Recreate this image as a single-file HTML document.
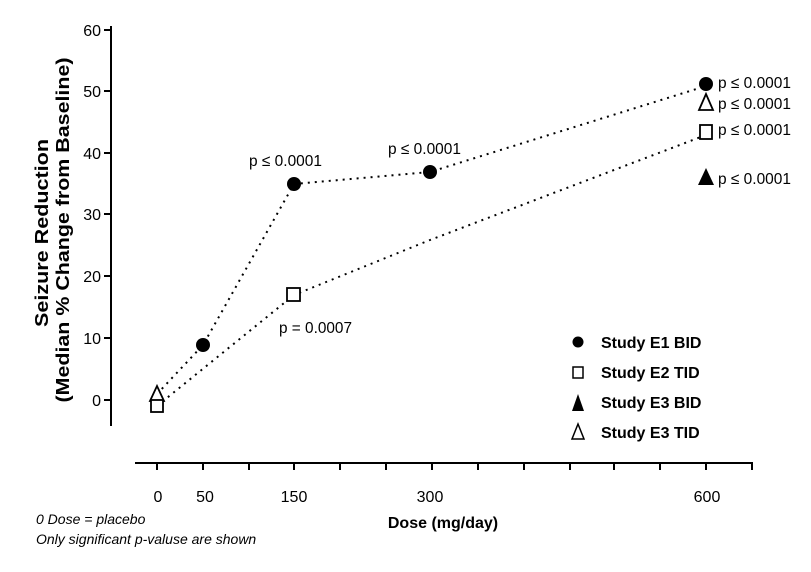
<!DOCTYPE html>
<html><head><style>body{margin:0;background:#fff}svg{display:block}</style></head><body>
<svg width="811" height="572" viewBox="0 0 811 572" xmlns="http://www.w3.org/2000/svg" font-family="Liberation Sans, Arial, sans-serif">
<rect width="811" height="572" fill="#fff"/>
<line x1="111" y1="26" x2="111" y2="426" stroke="#000" stroke-width="2"/>
<g stroke="#000" stroke-width="2">
<line x1="104" y1="30" x2="111" y2="30"/><line x1="104" y1="91" x2="111" y2="91"/><line x1="104" y1="153" x2="111" y2="153"/><line x1="104" y1="214" x2="111" y2="214"/><line x1="104" y1="276" x2="111" y2="276"/><line x1="104" y1="338" x2="111" y2="338"/><line x1="104" y1="400" x2="111" y2="400"/>
</g>
<g font-size="16" text-anchor="end" fill="#000">
<text x="101" y="36">60</text><text x="101" y="97">50</text><text x="101" y="159">40</text><text x="101" y="220">30</text><text x="101" y="282">20</text><text x="101" y="344">10</text><text x="101" y="406">0</text>
</g>
<text transform="translate(48,233) rotate(-90)" font-size="18" font-weight="bold" text-anchor="middle" textLength="188" lengthAdjust="spacingAndGlyphs">Seizure Reduction</text>
<text transform="translate(69,230) rotate(-90)" font-size="18" font-weight="bold" text-anchor="middle" textLength="345" lengthAdjust="spacingAndGlyphs">(Median % Change from Baseline)</text>
<line x1="135" y1="463" x2="753" y2="463" stroke="#000" stroke-width="2"/>
<g stroke="#000" stroke-width="2">
<line x1="157" y1="463" x2="157" y2="470"/><line x1="203" y1="463" x2="203" y2="470"/><line x1="249" y1="463" x2="249" y2="470"/><line x1="294" y1="463" x2="294" y2="470"/><line x1="340" y1="463" x2="340" y2="470"/><line x1="386" y1="463" x2="386" y2="470"/><line x1="432" y1="463" x2="432" y2="470"/><line x1="478" y1="463" x2="478" y2="470"/><line x1="524" y1="463" x2="524" y2="470"/><line x1="570" y1="463" x2="570" y2="470"/><line x1="614" y1="463" x2="614" y2="470"/><line x1="660" y1="463" x2="660" y2="470"/><line x1="706" y1="463" x2="706" y2="470"/><line x1="752" y1="463" x2="752" y2="470"/>
</g>
<g font-size="16" text-anchor="middle">
<text x="158" y="502">0</text><text x="205" y="502">50</text><text x="294" y="502">150</text><text x="430" y="502">300</text><text x="707" y="502">600</text>
</g>
<text x="443" y="528" font-size="16" font-weight="bold" text-anchor="middle">Dose (mg/day)</text>
<text x="36" y="524" font-size="14" font-style="italic">0 Dose = placebo</text>
<text x="36" y="544" font-size="14" font-style="italic">Only significant p-valuse are shown</text>
<g fill="none" stroke="#000" stroke-width="2" stroke-dasharray="2 5">
<polyline points="157,394 203,345 294,184 430,172 706,86"/>
<polyline points="157,406 294,295 430,240 706,135"/>
</g>
<g fill="#000">
<circle cx="203" cy="345" r="7"/><circle cx="294" cy="184" r="7"/><circle cx="430" cy="172" r="7"/><circle cx="706" cy="84" r="7"/>
<polygon points="706,168 698,185 714,185"/>
</g>
<g fill="#fff" stroke="#000" stroke-width="1.8">
<polygon points="157,386 150,401 164,401"/>
<rect x="151" y="400" width="12" height="12"/>
<rect x="287" y="288" width="13" height="13"/>
<rect x="700" y="125" width="12" height="14"/>
<polygon points="706,94 699,110 713,110"/>
</g>
<g font-size="16">
<text x="249" y="166" textLength="73" lengthAdjust="spacingAndGlyphs">p ≤ 0.0001</text>
<text x="388" y="154" textLength="73" lengthAdjust="spacingAndGlyphs">p ≤ 0.0001</text>
<text x="718" y="88" textLength="73" lengthAdjust="spacingAndGlyphs">p ≤ 0.0001</text>
<text x="718" y="109" textLength="73" lengthAdjust="spacingAndGlyphs">p ≤ 0.0001</text>
<text x="718" y="135" textLength="73" lengthAdjust="spacingAndGlyphs">p ≤ 0.0001</text>
<text x="718" y="184" textLength="73" lengthAdjust="spacingAndGlyphs">p ≤ 0.0001</text>
<text x="279" y="333" textLength="73" lengthAdjust="spacingAndGlyphs">p = 0.0007</text>
</g>
<circle cx="578" cy="342" r="5.5"/>
<rect x="573" y="367" width="10" height="11" fill="#fff" stroke="#000" stroke-width="1.5"/>
<polygon points="578,394 572,411 584,411"/>
<polygon points="578,424 572,439 584,439" fill="#fff" stroke="#000" stroke-width="1.5"/>
<g font-size="16" font-weight="bold">
<text x="601" y="348">Study E1 BID</text>
<text x="601" y="378">Study E2 TID</text>
<text x="601" y="408">Study E3 BID</text>
<text x="601" y="438">Study E3 TID</text>
</g>
</svg>
</body></html>
